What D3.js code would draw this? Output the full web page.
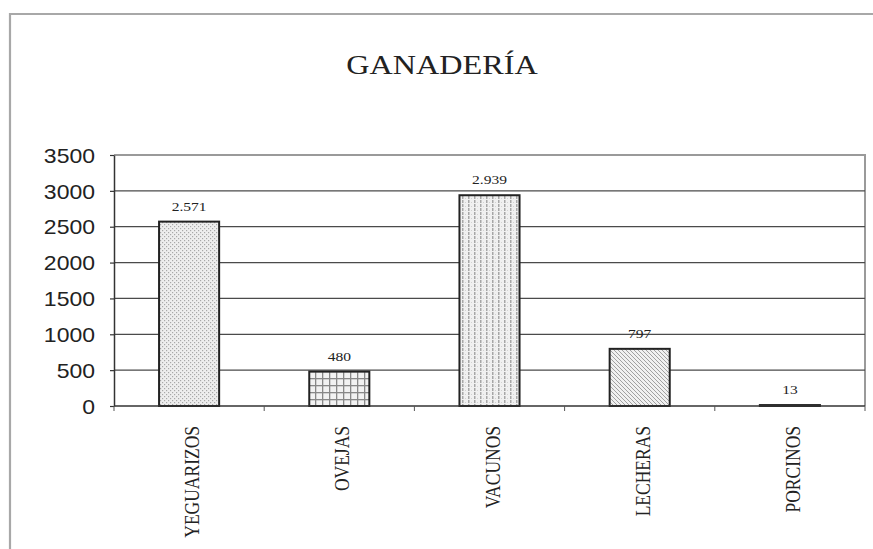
<!DOCTYPE html>
<html>
<head>
<meta charset="utf-8">
<script src="https://cdn.jsdelivr.net/npm/d3@7"></script>
<style>
  html, body { margin: 0; padding: 0; background: #fff; }
  svg { display: block; }
</style>
</head>
<body>
<svg id="chart" width="873" height="549"></svg>
<script>
// ---- data ----
const title = "GANADERÍA";
const categories = ["YEGUARIZOS", "OVEJAS", "VACUNOS", "LECHERAS", "PORCINOS"];
const values = [2571, 480, 2939, 797, 13];
const yTicks = [0, 500, 1000, 1500, 2000, 2500, 3000, 3500];

// ---- styles ----
const patternIds = ["pDots", "pGrid", "pVert", "pDiag", "pDark"];

const svg = d3.select("#chart");
svg.append("rect").attr("width", 873).attr("height", 549).attr("fill", "#fff");

// patterns
const defs = svg.append("defs");
{
  const p = defs.append("pattern").attr("id", "pDots").attr("patternUnits", "userSpaceOnUse")
    .attr("width", 4).attr("height", 4);
  p.append("rect").attr("width", 4).attr("height", 4).attr("fill", "#eeeeee");
  p.append("rect").attr("x", 0).attr("y", 0).attr("width", 1.2).attr("height", 1.2).attr("fill", "#a8a8a8");
  p.append("rect").attr("x", 2).attr("y", 2).attr("width", 1.2).attr("height", 1.2).attr("fill", "#a8a8a8");
}
{
  const p = defs.append("pattern").attr("id", "pGrid").attr("patternUnits", "userSpaceOnUse")
    .attr("width", 7).attr("height", 7);
  p.append("rect").attr("width", 7).attr("height", 7).attr("fill", "#f2f2f2");
  p.append("rect").attr("x", 0).attr("y", 0).attr("width", 7).attr("height", 1.3).attr("fill", "#888");
  p.append("rect").attr("x", 0).attr("y", 0).attr("width", 1.3).attr("height", 7).attr("fill", "#888");
}
{
  const p = defs.append("pattern").attr("id", "pVert").attr("patternUnits", "userSpaceOnUse")
    .attr("width", 6).attr("height", 4);
  p.append("rect").attr("width", 6).attr("height", 4).attr("fill", "#f0f0f0");
  p.append("rect").attr("x", 0).attr("y", 0).attr("width", 1.5).attr("height", 3).attr("fill", "#a6a6a6");
  p.append("rect").attr("x", 3).attr("y", 2).attr("width", 1).attr("height", 1).attr("fill", "#d2d2d2");
}
{
  const p = defs.append("pattern").attr("id", "pDiag").attr("patternUnits", "userSpaceOnUse")
    .attr("width", 4).attr("height", 4);
  p.append("rect").attr("width", 4).attr("height", 4).attr("fill", "#f0f0f0");
  p.append("path").attr("d", "M-1,-1 L5,5 M-1,3 L1,5 M3,-1 L5,1").attr("stroke", "#a0a0a0").attr("stroke-width", 1);
}
{
  const p = defs.append("pattern").attr("id", "pDark").attr("patternUnits", "userSpaceOnUse")
    .attr("width", 4).attr("height", 4);
  p.append("rect").attr("width", 4).attr("height", 4).attr("fill", "#555");
}

// outer frame (cropped at right and bottom)
svg.append("path")
  .attr("d", "M10,549 L10,14 L873,14")
  .attr("fill", "none").attr("stroke", "#a8a8a8").attr("stroke-width", 2.2);

// scales
const x = d3.scaleBand().domain(categories).range([114, 865]).paddingInner(0.6).paddingOuter(0.3);
const y = d3.scaleLinear().domain([0, 3500]).range([406, 155]);

// plot area border (top/right)
svg.append("path")
  .attr("d", `M${x.range()[0]},${y(3500)} L${x.range()[1]},${y(3500)} L${x.range()[1]},${y(0)}`)
  .attr("fill", "none").attr("stroke", "#9a9a9a").attr("stroke-width", 2);

// gridlines
svg.append("g").selectAll("line")
  .data(yTicks.filter(t => t > 0 && t < 3500))
  .join("line")
  .attr("x1", x.range()[0]).attr("x2", x.range()[1])
  .attr("y1", d => y(d)).attr("y2", d => y(d))
  .attr("stroke", "#4a4a4a").attr("stroke-width", 1.3);

// title
svg.append("text")
  .attr("transform", "translate(442,74) scale(1.15,1)")
  .attr("text-anchor", "middle")
  .attr("font-family", "Liberation Serif, Times New Roman, serif")
  .attr("font-size", 28)
  .attr("fill", "#222")
  .text(title);

// y axis
const yAxis = svg.append("g")
  .attr("transform", `translate(${x.range()[0]},0)`)
  .call(d3.axisLeft(y).tickValues(yTicks).tickFormat(d3.format("d")).tickSize(4).tickSizeOuter(0));
yAxis.select(".domain").attr("stroke", "#333").attr("stroke-width", 1.5);
yAxis.selectAll(".tick line").attr("stroke", "#333").attr("stroke-width", 1.2);
yAxis.selectAll(".tick text")
  .attr("x", null).attr("dy", "0.36em")
  .attr("transform", "translate(-19,0) scale(1.15,1)")
  .attr("text-anchor", "end")
  .attr("font-family", "Liberation Sans, Arial, sans-serif")
  .attr("font-size", 20)
  .attr("fill", "#222");

// bars
const fmt = d3.formatLocale({ decimal: ",", thousands: ".", grouping: [3], currency: ["", ""] }).format(",d");

svg.append("g").selectAll("rect")
  .data(values)
  .join("rect")
  .attr("x", (d, i) => x(categories[i]))
  .attr("width", x.bandwidth())
  .attr("y", d => y(d))
  .attr("height", d => y(0) - y(d))
  .attr("fill", (d, i) => `url(#${patternIds[i]})`)
  .attr("stroke", "#222")
  .attr("stroke-width", 2);

// x axis line with category-boundary ticks
const xAxisG = svg.append("g");
xAxisG.append("line")
  .attr("x1", x.range()[0]).attr("x2", x.range()[1])
  .attr("y1", y(0)).attr("y2", y(0))
  .attr("stroke", "#333").attr("stroke-width", 1.5);
const boundaries = d3.range(categories.length + 1).map(i => x.range()[0] + (x.range()[1] - x.range()[0]) * i / categories.length);
xAxisG.selectAll("line.tk")
  .data(boundaries)
  .join("line").attr("class", "tk")
  .attr("x1", d => d).attr("x2", d => d)
  .attr("y1", y(0)).attr("y2", y(0) + 5)
  .attr("stroke", "#555").attr("stroke-width", 1);

// category labels
svg.append("g").selectAll("text")
  .data(categories)
  .join("text")
  .attr("transform", d => `translate(${x(d) + x.bandwidth() / 2 + 10},426) rotate(-90) scale(1,1.15)`)
  .attr("text-anchor", "end")
  .attr("font-family", "Liberation Serif, Times New Roman, serif")
  .attr("font-size", 17.5)
  .attr("fill", "#222")
  .text(d => d);

// value labels
svg.append("g").selectAll("text")
  .data(values)
  .join("text")
  .attr("transform", (d, i) => `translate(${x(categories[i]) + x.bandwidth() / 2},${y(d) - 11}) scale(1.15,1)`)
  .attr("text-anchor", "middle")
  .attr("font-family", "Liberation Serif, Times New Roman, serif")
  .attr("font-size", 13.5)
  .attr("fill", "#222")
  .text(d => fmt(d));
</script>
</body>
</html>
